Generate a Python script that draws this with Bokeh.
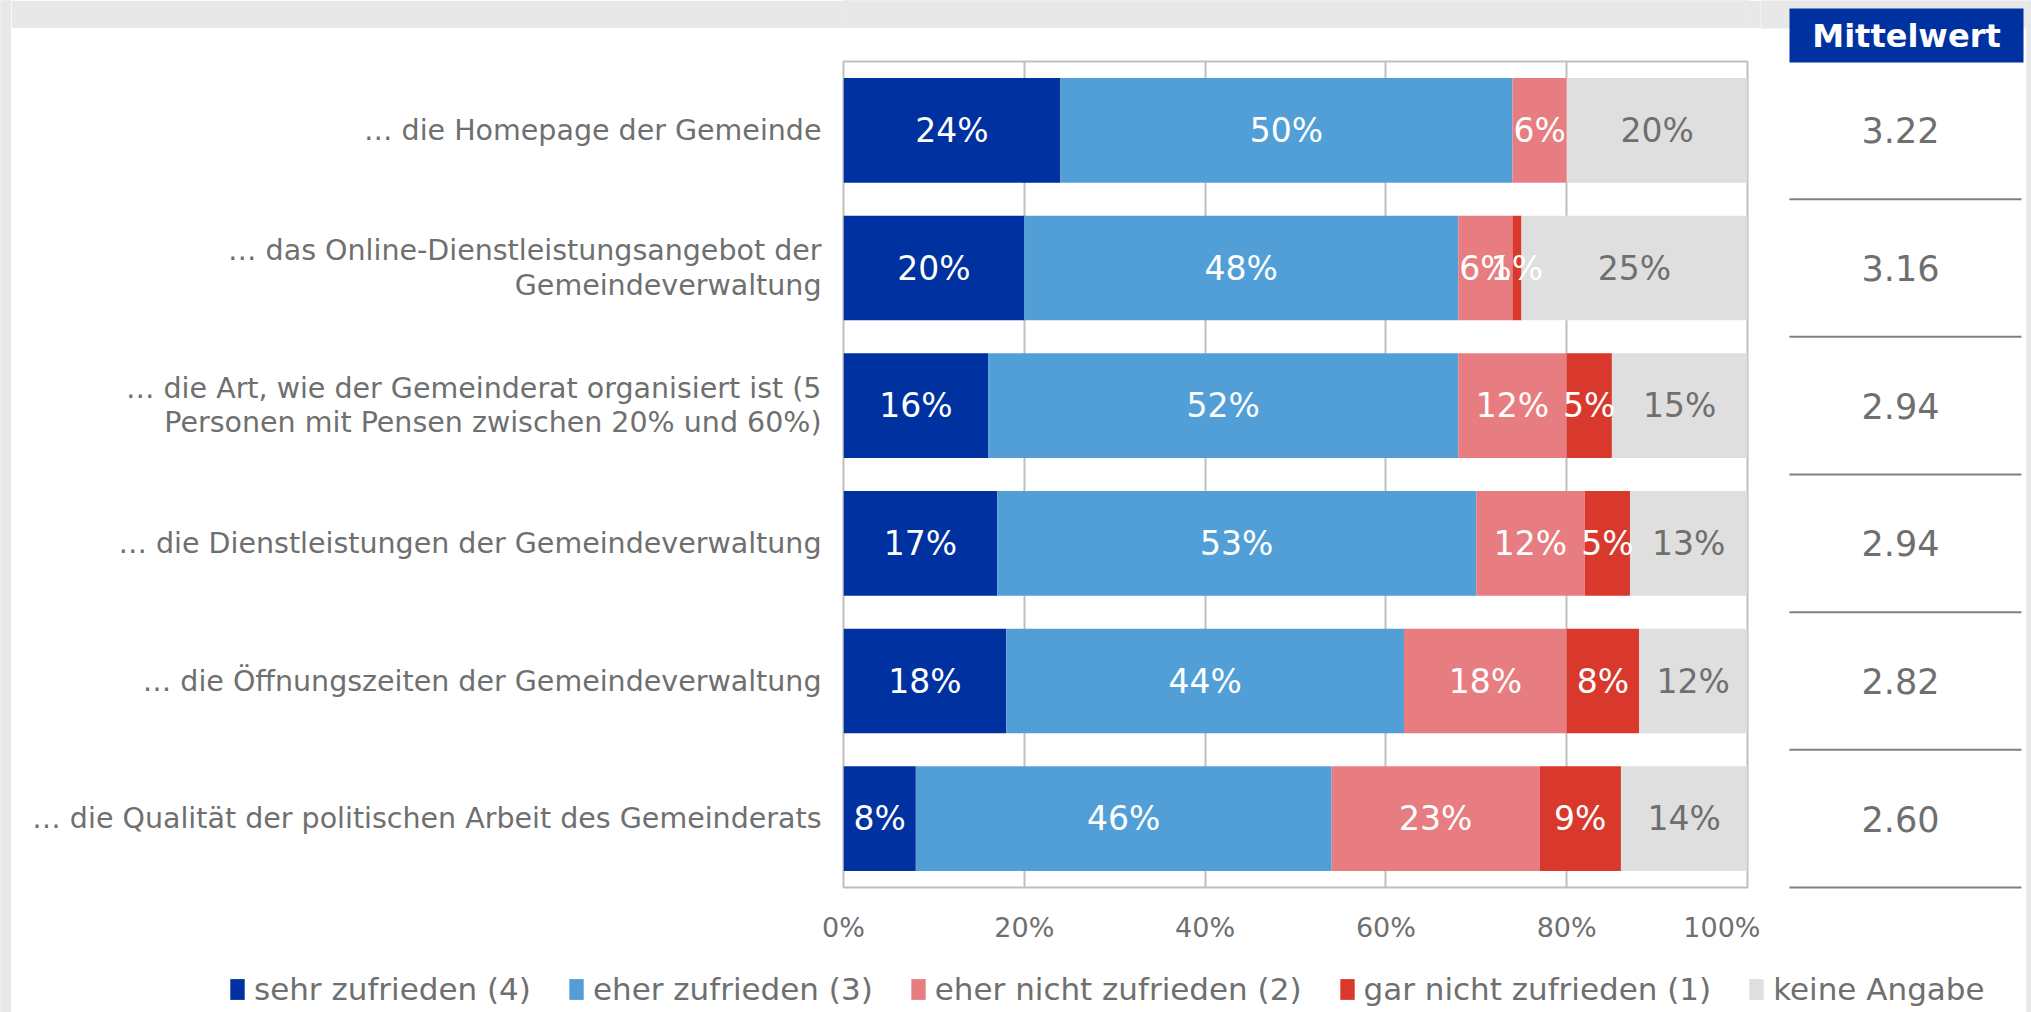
from bokeh.plotting import figure
from bokeh.models import (FactorRange, Range1d, ColumnDataSource, FixedTicker,
                          PrintfTickFormatter, Legend, LegendItem)
from bokeh.layouts import row, column
from bokeh.embed import file_html
from bokeh.resources import INLINE
from bokeh.core.properties import value

# ---------------- data ----------------
categories = [
    "… die Homepage der Gemeinde",
    "… das Online-Dienstleistungsangebot der\nGemeindeverwaltung",
    "… die Art, wie der Gemeinderat organisiert ist (5\nPersonen mit Pensen zwischen 20% und 60%)",
    "… die Dienstleistungen der Gemeindeverwaltung",
    "… die Öffnungszeiten der Gemeindeverwaltung",
    "… die Qualität der politischen Arbeit des Gemeinderats",
]
series_names = ["sehr zufrieden (4)", "eher zufrieden (3)", "eher nicht zufrieden (2)",
                "gar nicht zufrieden (1)", "keine Angabe"]
sehr_zufrieden = [24, 20, 16, 17, 18, 8]
eher_zufrieden = [50, 48, 52, 53, 44, 46]
eher_nicht_zufrieden = [6, 6, 12, 12, 18, 23]
gar_nicht_zufrieden = [0, 1, 5, 5, 8, 9]
keine_angabe = [20, 25, 15, 13, 12, 14]
mittelwert = [3.22, 3.16, 2.94, 2.94, 2.82, 2.60]
x_ticks = [0, 20, 40, 60, 80, 100]
header_text = "Mittelwert"

colors = ["#0031a0", "#529fd7", "#e87d81", "#d9392d", "#dfdfdf"]
label_colors = ["#ffffff", "#ffffff", "#ffffff", "#ffffff", "#6f6f6f"]
FONT = "DejaVu Sans"
TEXT_GRAY = "#6f6f6f"
GRID = "#bfbfbf"
BAND = "#e8e8e8"

series = [sehr_zufrieden, eher_zufrieden, eher_nicht_zufrieden, gar_nicht_zufrieden, keine_angabe]
keys = ["s0", "s1", "s2", "s3", "s4"]

PAGE_W, PAGE_H = 2031, 1012
LEFT_STRIP = 11
RIGHT_STRIP = 5
TOP_BAND = 28


def blank(width, height, fill):
    f = figure(width=width, height=height, x_range=Range1d(0, 1), y_range=Range1d(0, 1),
               toolbar_location=None, output_backend="svg", min_border=0,
               x_axis_location=None, y_axis_location=None, outline_line_color=None,
               border_fill_color=fill, background_fill_color=fill)
    f.grid.visible = False
    f.quad(left=[-1], right=[2], bottom=[-1], top=[2], color=fill, line_color=None)
    return f


# ---------------- main chart ----------------
A_W, A_H = 1749, 922
MB_LEFT, MB_RIGHT, MB_TOP, MB_BOTTOM = 832, 13, 33, 63
frame_h = A_H - MB_TOP - MB_BOTTOM

factors = list(reversed(categories))
p = figure(width=A_W, height=A_H, y_range=FactorRange(*factors, range_padding=0),
           x_range=Range1d(0, 100), toolbar_location=None, output_backend="svg",
           min_border_left=MB_LEFT, min_border_right=MB_RIGHT,
           min_border_top=MB_TOP, min_border_bottom=MB_BOTTOM)

data = {"cat": categories}
for k, s in zip(keys, series):
    data[k] = s
src = ColumnDataSource(data)
p.hbar_stack(keys, y="cat", height=0.76, color=colors, source=src, line_color=None)

# segment labels
lx, ly, lt, lc = [], [], [], []
for i, cat in enumerate(categories):
    start = 0
    for j, s in enumerate(series):
        v = s[i]
        if v > 0:
            lx.append(start + v / 2)
            ly.append(cat)
            lt.append(f"{v}%")
            lc.append(label_colors[j])
        start += v
p.text(x="x", y="y", text="t", text_color="c",
       source=ColumnDataSource(dict(x=lx, y=ly, t=lt, c=lc)),
       text_align="center", text_baseline="middle",
       text_font=value(FONT), text_font_size="33px")

p.outline_line_color = GRID
p.outline_line_width = 2
p.ygrid.grid_line_color = None
p.xgrid.ticker = FixedTicker(ticks=x_ticks)
p.xgrid.grid_line_color = GRID
p.xgrid.grid_line_width = 2

p.xaxis.ticker = FixedTicker(ticks=x_ticks)
p.xaxis.formatter = PrintfTickFormatter(format="%d%%")
p.xaxis.axis_line_color = None
p.xaxis.major_tick_line_color = None
p.xaxis.minor_tick_line_color = None
p.xaxis.major_label_standoff = 18
p.xaxis.major_label_text_font = FONT
p.xaxis.major_label_text_font_size = "27px"
p.xaxis.major_label_text_color = TEXT_GRAY

p.yaxis.axis_line_color = None
p.yaxis.major_tick_line_color = None
p.yaxis.minor_tick_line_color = None
p.yaxis.major_label_standoff = 16
p.yaxis.major_label_text_font = FONT
p.yaxis.major_label_text_font_size = "28.5px"
p.yaxis.major_label_text_color = TEXT_GRAY
p.yaxis.major_label_text_line_height = 1.05

# ---------------- top grey band ----------------
strip = blank(A_W, TOP_BAND, BAND)

# ---------------- Mittelwert column ----------------
B_W = PAGE_W - RIGHT_STRIP - LEFT_STRIP - A_W
B_H = TOP_BAND + A_H
pitch = frame_h / len(categories)
ylo = -MB_BOTTOM / pitch
yhi = len(categories) + (MB_TOP + TOP_BAND) / pitch
b = figure(width=B_W, height=B_H, x_range=Range1d(0, B_W), y_range=Range1d(ylo, yhi),
           toolbar_location=None, output_backend="svg", min_border=0,
           x_axis_location=None, y_axis_location=None, outline_line_color=None)
b.grid.visible = False
n = len(categories)
b.quad(left=[-1], right=[B_W + 1], bottom=[n + MB_TOP / pitch], top=[yhi + 1], color=BAND, line_color=None)
b.quad(left=[29], right=[B_W - 3], bottom=[n - 1 / pitch], top=[yhi - 8 / pitch],
       color="#0031a0", line_color=None)
b.text(x=[(29 + B_W - 3) / 2], y=[(n - 1 / pitch + yhi - 8 / pitch) / 2], text=[header_text],
       text_color="#ffffff", text_font=value(FONT), text_font_style="bold",
       text_font_size="32px", text_align="center", text_baseline="middle")
bounds = list(range(n))
b.segment(x0=[29] * n, x1=[B_W - 5] * n, y0=bounds, y1=bounds, line_color="#808080", line_width=2)
b.text(x=[140] * n, y=[n - i - 0.5 for i in range(n)], text=[f"{v:.2f}" for v in mittelwert],
       text_color=TEXT_GRAY, text_font=value(FONT), text_font_size="35px",
       text_align="center", text_baseline="middle")

# ---------------- legend ----------------
C_W, C_H = A_W + B_W, PAGE_H - B_H
c = figure(width=C_W, height=C_H, x_range=Range1d(0, 1), y_range=Range1d(0, 1),
           toolbar_location=None, output_backend="svg", min_border=0,
           x_axis_location=None, y_axis_location=None, outline_line_color=None)
c.grid.visible = False
items = []
for name, col in zip(series_names, colors):
    r = c.quad(left=[5], right=[6], top=[6], bottom=[5], color=col, line_color=None)
    items.append(LegendItem(label=name, renderers=[r]))
leg = Legend(items=items, orientation="horizontal", location=(217, 5),
             glyph_width=18, glyph_height=26, label_standoff=8, spacing=36,
             padding=0, margin=0, border_line_color=None, background_fill_alpha=0,
             label_text_font=FONT, label_text_font_size="31px",
             label_text_color=TEXT_GRAY)
c.add_layout(leg)

left = blank(LEFT_STRIP, PAGE_H, BAND)
right = blank(RIGHT_STRIP, PAGE_H, BAND)
layout = row(left, column(row(column(strip, p), b), c), right)
open("out.html", "w").write(file_html(layout, INLINE))
